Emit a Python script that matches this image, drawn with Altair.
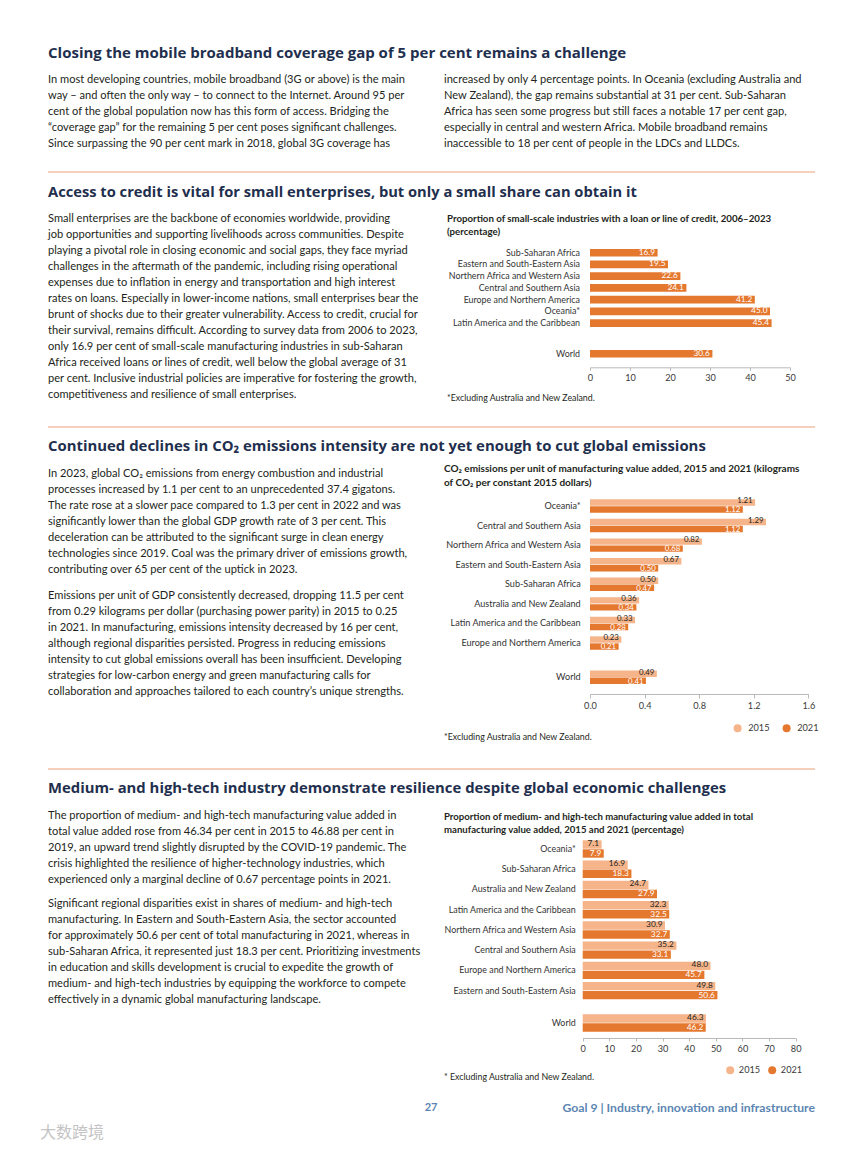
import altair as alt
import pandas as pd

# ---------------- data ----------------
HEADINGS = [
    "Closing the mobile broadband coverage gap of 5 per cent remains a challenge",
    "Access to credit is vital for small enterprises, but only a small share can obtain it",
    "Continued declines in CO₂ emissions intensity are not yet enough to cut global emissions",
    "Medium- and high-tech industry demonstrate resilience despite global economic challenges",
]

S1_LEFT = [
    "In most developing countries, mobile broadband (3G or above) is the main",
    "way – and often the only way – to connect to the Internet. Around 95 per",
    "cent of the global population now has this form of access. Bridging the",
    "“coverage gap” for the remaining 5 per cent poses significant challenges.",
    "Since surpassing the 90 per cent mark in 2018, global 3G coverage has",
]
S1_RIGHT = [
    "increased by only 4 percentage points. In Oceania (excluding Australia and",
    "New Zealand), the gap remains substantial at 31 per cent. Sub-Saharan",
    "Africa has seen some progress but still faces a notable 17 per cent gap,",
    "especially in central and western Africa. Mobile broadband remains",
    "inaccessible to 18 per cent of people in the LDCs and LLDCs.",
]
S2_BODY = [
    "Small enterprises are the backbone of economies worldwide, providing",
    "job opportunities and supporting livelihoods across communities. Despite",
    "playing a pivotal role in closing economic and social gaps, they face myriad",
    "challenges in the aftermath of the pandemic, including rising operational",
    "expenses due to inflation in energy and transportation and high interest",
    "rates on loans. Especially in lower-income nations, small enterprises bear the",
    "brunt of shocks due to their greater vulnerability. Access to credit, crucial for",
    "their survival, remains difficult. According to survey data from 2006 to 2023,",
    "only 16.9 per cent of small-scale manufacturing industries in sub-Saharan",
    "Africa received loans or lines of credit, well below the global average of 31",
    "per cent. Inclusive industrial policies are imperative for fostering the growth,",
    "competitiveness and resilience of small enterprises.",
]
S3_PARA1 = [
    "In 2023, global CO₂ emissions from energy combustion and industrial",
    "processes increased by 1.1 per cent to an unprecedented 37.4 gigatons.",
    "The rate rose at a slower pace compared to 1.3 per cent in 2022 and was",
    "significantly lower than the global GDP growth rate of 3 per cent. This",
    "deceleration can be attributed to the significant surge in clean energy",
    "technologies since 2019. Coal was the primary driver of emissions growth,",
    "contributing over 65 per cent of the uptick in 2023.",
]
S3_PARA2 = [
    "Emissions per unit of GDP consistently decreased, dropping 11.5 per cent",
    "from 0.29 kilograms per dollar (purchasing power parity) in 2015 to 0.25",
    "in 2021. In manufacturing, emissions intensity decreased by 16 per cent,",
    "although regional disparities persisted. Progress in reducing emissions",
    "intensity to cut global emissions overall has been insufficient. Developing",
    "strategies for low-carbon energy and green manufacturing calls for",
    "collaboration and approaches tailored to each country’s unique strengths.",
]
S4_PARA1 = [
    "The proportion of medium- and high-tech manufacturing value added in",
    "total value added rose from 46.34 per cent in 2015 to 46.88 per cent in",
    "2019, an upward trend slightly disrupted by the COVID-19 pandemic. The",
    "crisis highlighted the resilience of higher-technology industries, which",
    "experienced only a marginal decline of 0.67 percentage points in 2021.",
]
S4_PARA2 = [
    "Significant regional disparities exist in shares of medium- and high-tech",
    "manufacturing. In Eastern and South-Eastern Asia, the sector accounted",
    "for approximately 50.6 per cent of total manufacturing in 2021, whereas in",
    "sub-Saharan Africa, it represented just 18.3 per cent. Prioritizing investments",
    "in education and skills development is crucial to expedite the growth of",
    "medium- and high-tech industries by equipping the workforce to compete",
    "effectively in a dynamic global manufacturing landscape.",
]

CREDIT_TITLE = [
    "Proportion of small-scale industries with a loan or line of credit, 2006–2023",
    "(percentage)",
]
CREDIT_REGIONS = [
    "Sub-Saharan Africa", "Eastern and South-Eastern Asia", "Northern Africa and Western Asia",
    "Central and Southern Asia", "Europe and Northern America", "Oceania*",
    "Latin America and the Caribbean", "World",
]
CREDIT_VALUES = [16.9, 19.5, 22.6, 24.1, 41.2, 45.0, 45.4, 30.6]
CREDIT_TICKS = [0, 10, 20, 30, 40, 50]

CO2_TITLE = [
    "CO₂ emissions per unit of manufacturing value added, 2015 and 2021 (kilograms",
    "of CO₂ per constant 2015 dollars)",
]
CO2_REGIONS = [
    "Oceania*", "Central and Southern Asia", "Northern Africa and Western Asia",
    "Eastern and South-Eastern Asia", "Sub-Saharan Africa", "Australia and New Zealand",
    "Latin America and the Caribbean", "Europe and Northern America", "World",
]
CO2_2015 = [1.21, 1.29, 0.82, 0.67, 0.50, 0.36, 0.33, 0.23, 0.49]
CO2_2021 = [1.12, 1.12, 0.68, 0.50, 0.47, 0.34, 0.28, 0.21, 0.41]
CO2_TICKS = [0.0, 0.4, 0.8, 1.2, 1.6]

TECH_TITLE = [
    "Proportion of medium- and high-tech manufacturing value added in total",
    "manufacturing value added, 2015 and 2021 (percentage)",
]
TECH_REGIONS = [
    "Oceania*", "Sub-Saharan Africa", "Australia and New Zealand",
    "Latin America and the Caribbean", "Northern Africa and Western Asia",
    "Central and Southern Asia", "Europe and Northern America",
    "Eastern and South-Eastern Asia", "World",
]
TECH_2015 = [7.1, 16.9, 24.7, 32.3, 30.9, 35.2, 48.0, 49.8, 46.3]
TECH_2021 = [7.9, 18.3, 27.9, 32.5, 32.7, 33.1, 45.7, 50.6, 46.2]
TECH_TICKS = [0, 10, 20, 30, 40, 50, 60, 70, 80]

YEARS = ["2015", "2021"]
FOOTNOTE_A = "*Excluding Australia and New Zealand."
FOOTNOTE_B = "* Excluding Australia and New Zealand."
FOOTER_PAGE = "27"
FOOTER_GOAL = "Goal 9 | Industry, innovation and infrastructure"
WATERMARK = "大数跨境"

# ---------------- layout / style ----------------
W, H = 848, 1136
M = 8


def P(v):
    return v - M


FONT = "Lato"
HEAD_FONT = "Open Sans"
NAVY = "#1f2f4e"
INK = "#231f20"
ORANGE = "#e5782f"
PEACH = "#f5b48a"
RULE = "#e9a27a"
AXIS = "#a8a8a8"
BLUE = "#5b86b3"

layers = []


def text_block(lines, x, y0, dy, size, color=INK, weight="normal", font=FONT, align="left"):
    df = pd.DataFrame({
        "t": lines,
        "x": [P(x)] * len(lines),
        "y": [P(y0 + i * dy) for i in range(len(lines))],
    })
    return alt.Chart(df).mark_text(
        align=align, baseline="middle", font=font, fontSize=size,
        fontWeight=weight, color=color,
    ).encode(
        x=alt.X("x:Q", scale=None, axis=None),
        y=alt.Y("y:Q", scale=None, axis=None),
        text="t:N",
    )


# headings
HEAD_Y = [53, 192.5, 446.5, 789]
HEAD_SIZE = [15.0, 14.7, 14.9, 14.85]
for txt, yy, sz in zip(HEADINGS, HEAD_Y, HEAD_SIZE):
    layers.append(text_block([txt], 48, yy, 0, sz, color=NAVY, weight="bold", font=HEAD_FONT))

# separator rules
rule_df = pd.DataFrame({"y": [P(v) for v in [172, 427, 769]]})
layers.append(
    alt.Chart(rule_df).mark_rule(color=RULE, strokeWidth=1.2).encode(
        x=alt.value(P(48)), x2=alt.value(P(815)),
        y=alt.Y("y:Q", scale=None, axis=None),
    )
)

BODY = 11.1
LH = 16.0
layers.append(text_block(S1_LEFT, 48, 79.5, LH, BODY))
layers.append(text_block(S1_RIGHT, 444, 79.5, LH, BODY))
layers.append(text_block(S2_BODY, 48, 219, LH, BODY))
layers.append(text_block(S3_PARA1, 48, 473.5, LH, BODY))
layers.append(text_block(S3_PARA2, 48, 595.5, LH, BODY))
layers.append(text_block(S4_PARA1, 48, 815.5, LH, BODY))
layers.append(text_block(S4_PARA2, 48, 904, LH, BODY))

# chart titles / footnotes
layers.append(text_block(CREDIT_TITLE, 447, 219, 13, 9.7, weight="bold"))
layers.append(text_block(CO2_TITLE, 444, 469, 13.5, 10.0, weight="bold"))
layers.append(text_block(TECH_TITLE, 444, 816.7, 12.8, 9.6, weight="bold"))
layers.append(text_block([FOOTNOTE_A], 447, 398, 0, 8.8))
layers.append(text_block([FOOTNOTE_A], 444, 737, 0, 8.8))
layers.append(text_block([FOOTNOTE_B], 444, 1077, 0, 8.8))

# footer
layers.append(text_block([FOOTER_PAGE], 431, 1108, 0, 11, color=BLUE, weight="bold", align="center"))
layers.append(text_block([FOOTER_GOAL], 815, 1108, 0, 12.2, color=BLUE, weight="bold", align="right"))
layers.append(text_block([WATERMARK], 40, 1133, 0, 16, color="#c4c4c4", font="Noto Sans CJK SC"))


def bar_panel(regions, series, names, bar_colors, text_colors, x_domain, x_px, y_px,
              world_gap, bar_px, ticks, axis_y, tick_size, label_pad, tick_fmt, val_fmt,
              cat_right, cat_size=8.9, val_size=8.3, label_shift=(0.0, 0.0),
              legend_xy=None, legend_gap=14, legend_offset=6):
    n = len(regions)
    pos = [float(i) for i in range(n - 1)] + [n - 2 + world_gap]
    row_px = (y_px[1] - y_px[0]) / pos[-1]
    h = bar_px / row_px
    k = len(series)
    rows = []
    for j, (nm, vals) in enumerate(zip(names, series)):
        for i, (r, v) in enumerate(zip(regions, vals)):
            top = pos[i] - k * h / 2 + j * h
            rows.append({"region": r, "series": nm, "v": v,
                         "y0": top + 0.015, "y1": top + h - 0.015,
                         "yc": top + h / 2 + label_shift[j] / row_px})
    df = pd.DataFrame(rows)
    xs = alt.Scale(domain=x_domain, range=[P(x_px[0]), P(x_px[1])], nice=False, zero=False)
    ys = alt.Scale(domain=[0, pos[-1]], range=[P(y_px[0]), P(y_px[1])], nice=False, zero=False)
    axis = alt.Axis(
        orient="bottom", offset=-(H - P(axis_y)), values=ticks, format=tick_fmt,
        grid=False, title=None, domainColor=AXIS, tickColor=AXIS, tickSize=tick_size,
        labelPadding=label_pad, labelFont=FONT, labelFontSize=9.2, labelColor="#3a3a3a",
        domainWidth=0.8, tickWidth=0.8, labelFlush=False,
    )
    if legend_xy is not None:
        legend = alt.Legend(
            orient="none", legendX=P(legend_xy[0]), legendY=P(legend_xy[1]),
            direction="horizontal", title=None, symbolType="circle", symbolSize=64,
            symbolStrokeWidth=0, labelFont=FONT, labelFontSize=9.2, labelColor="#3a3a3a",
            labelOffset=legend_offset, columnPadding=legend_gap, padding=0,
        )
    else:
        legend = None
    bars = alt.Chart(df).mark_rect().encode(
        x=alt.X("v:Q", scale=xs, axis=axis),
        x2=alt.datum(0),
        y=alt.Y("y0:Q", scale=ys, axis=None),
        y2="y1:Q",
        color=alt.Color("series:N", scale=alt.Scale(domain=names, range=bar_colors), legend=legend),
    )
    vals = alt.Chart(df).mark_text(
        align="right", baseline="middle", dx=-2.5, font=FONT, fontSize=val_size,
    ).encode(
        x=alt.X("v:Q", scale=xs, axis=None),
        y=alt.Y("yc:Q", scale=ys, axis=None),
        text=alt.Text("v:Q", format=val_fmt),
        color=alt.Color("series:N", scale=alt.Scale(domain=names, range=text_colors), legend=None),
    )
    cats = pd.DataFrame({"region": regions, "pos": pos})
    catl = alt.Chart(cats).mark_text(
        align="right", baseline="middle", font=FONT, fontSize=cat_size, color="#333333",
    ).encode(
        x=alt.value(P(cat_right)),
        y=alt.Y("pos:Q", scale=ys, axis=None),
        text="region:N",
    )
    return [bars, vals, catl]


layers += bar_panel(
    CREDIT_REGIONS, [CREDIT_VALUES], ["value"], [ORANGE], ["white"],
    [0, 50], (590, 790), (252.7, 353.7), 2.6, 8, CREDIT_TICKS,
    367.3, 3, 3, "d", ".1f", 580,
)
layers += bar_panel(
    CO2_REGIONS, [CO2_2015, CO2_2021], YEARS, [PEACH, ORANGE], [INK, "white"],
    [0, 1.6], (590, 808.3), (506, 677.3), 1.75, 7, CO2_TICKS,
    694, 4, 3, ".1f", ".2f", 580.7, cat_size=9.1, val_size=7.8,
    label_shift=(-1.2, 0.8), legend_xy=(733, 723.5), legend_gap=12,
)
layers += bar_panel(
    TECH_REGIONS, [TECH_2015, TECH_2021], YEARS, [PEACH, ORANGE], [INK, "white"],
    [0, 80], (582.7, 795.7), (849, 1023), 1.6, 9, TECH_TICKS,
    1038, 3, 3, "d", ".1f", 575.7, label_shift=(-0.6, 0.4),
    legend_xy=(725.6, 1065.6), legend_gap=7, legend_offset=4,
)

chart = alt.layer(*layers).resolve_scale(
    x="independent", y="independent", color="independent"
).properties(
    width=W, height=H, autosize=alt.AutoSizeParams(type="none"), padding=0,
    background="white",
).configure_view(stroke=None)

chart.save("out.html", embed_options={"renderer": "svg", "actions": False})
